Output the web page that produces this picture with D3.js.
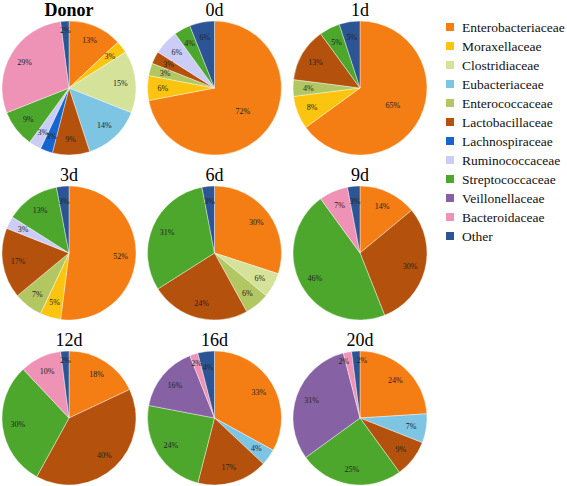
<!DOCTYPE html>
<html><head><meta charset="utf-8">
<script src="https://d3js.org/d3.v7.min.js"></script>
<style>body{margin:0;background:#fff}svg{display:block}
text{font-family:"Liberation Serif","Times New Roman","DejaVu Serif",serif}</style>
</head><body>
<script>
const families = ["Enterobacteriaceae","Moraxellaceae","Clostridiaceae","Eubacteriaceae","Enterococcaceae","Lactobacillaceae","Lachnospiraceae","Ruminococcaceae","Streptococcaceae","Veillonellaceae","Bacteroidaceae","Other"];
const colors = ["#f47d14","#fbc40f","#d5e39a","#7ec4e3","#b2c762","#b4520d","#1565cf","#cccdf6","#4ea72d","#8662a4","#ee93b6","#2c5595"];
const samples = ["Donor","0d","1d","3d","6d","9d","12d","16d","20d"];
// percentages per family (same order as families), per sample
const donorVals = [13,3,15,14,0,9,3,3,9,0,29,2];
const day0Vals  = [72,6,0,0,3,3,0,6,4,0,0,6];
const day1Vals  = [65,8,0,0,4,13,0,0,5,0,0,5];
const day3Vals  = [52,5,0,0,7,17,0,3,13,0,0,3];
const day6Vals  = [30,0,6,0,6,24,0,0,31,0,0,3];
const day9Vals  = [14,0,0,0,0,30,0,0,46,0,7,3];
const day12Vals = [18,0,0,0,0,40,0,0,30,0,10,2];
const day16Vals = [33,0,0,4,0,17,0,0,24,16,2,4];
const day20Vals = [24,0,0,7,0,9,0,0,25,31,2,2];
const values = [donorVals,day0Vals,day1Vals,day3Vals,day6Vals,day9Vals,day12Vals,day16Vals,day20Vals];

const W=567,H=486;
const svg = d3.select("body").append("svg").attr("width",W).attr("height",H);
const color = d3.scaleOrdinal().domain(families).range(colors);
const colX = d3.scalePoint().domain([0,1,2]).range([69,360]);
const rowY = d3.scalePoint().domain([0,1,2]).range([88,418]);
const R = 67;
const pie = d3.pie().sort(null).value(d=>d.v);
const arc = d3.arc().innerRadius(0).outerRadius(R);

samples.forEach((s,i)=>{
  const cx = colX(i%3), cy = rowY(Math.floor(i/3));
  const g = svg.append("g").attr("transform",`translate(${cx},${cy})`);
  const data = families.map((f,j)=>({f, v:values[i][j]})).filter(d=>d.v>0);
  const arcs = pie(data);
  const last = data.length-1;
  g.selectAll("path").data(arcs).join("path")
    .attr("d",arc).attr("fill",d=>color(d.data.f))
    .attr("stroke","#fff").attr("stroke-width",0.4);
  const crowded = data.slice(-2).every(d=>d.v<=2);
  g.selectAll("text.lab").data(arcs).join("text").attr("class","lab")
    .attr("transform",d=>{
      const frac = d.data.v>60?0.55:(d.data.v<=2?0.86:0.77);
      const a=(d.startAngle+d.endAngle)/2;
      return `translate(${Math.sin(a)*R*frac},${-Math.cos(a)*R*frac})`;
    })
    .attr("text-anchor",d=>{
      if(crowded && d.index===last) return "start";
      if(crowded && d.index===last-1) return "end";
      return "middle";
    })
    .attr("dy","0.35em")
    .attr("font-size",8)
    .attr("fill","#222").text(d=>d.data.v+"%");
  svg.append("text").attr("x",cx).attr("y",cy-R-5)
    .attr("text-anchor","middle")
    .attr("font-size",18).attr("font-weight",i===0?"bold":"normal")
    .attr("fill","#000").text(s);
});

const ly = d3.scalePoint().domain(families).range([27,236]);
const lg = svg.append("g");
families.forEach(f=>{
  lg.append("rect").attr("x",446).attr("y",ly(f)-4).attr("width",8).attr("height",8).attr("fill",color(f));
  lg.append("text").attr("x",462).attr("y",ly(f)).attr("dy","0.35em")
    .attr("font-size",13.5)
    .attr("fill","#111").text(f);
});
</script>
</body></html>
